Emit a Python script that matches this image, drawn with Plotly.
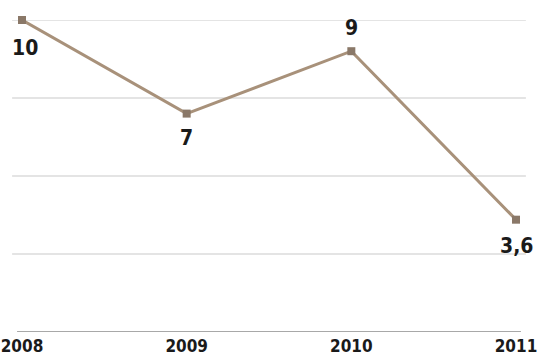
import plotly.graph_objects as go

years = ["2008", "2009", "2010", "2011"]
values = [10, 7, 9, 3.6]
label_shift = [-28, -24, 23, -26]

def fmt(v):
    s = ("%g" % v)
    return s.replace(".", ",")

labels = [fmt(v) for v in values]
FONT = "DejaVu Sans Condensed, Liberation Sans Narrow, sans-serif"

fig = go.Figure()
fig.add_trace(go.Scatter(
    x=years, y=values,
    mode="lines+markers",
    line=dict(color="#a8917a", width=3),
    marker=dict(symbol="square", size=8, color="#8a7868"),
    cliponaxis=False,
    hoverinfo="skip",
))

for i, (y, t, s) in enumerate(zip(values, labels, label_shift)):
    fig.add_annotation(x=i, y=y, xref="x", yref="y", text=t, showarrow=False, yshift=s,
                       xshift=3 if i == 0 else 0,
                       font=dict(family=FONT, size=21, color="#1a1a1a", weight="bold"))

for g in [2.5, 5, 7.5, 10]:
    fig.add_shape(type="line", xref="paper", yref="y", x0=-0.02, x1=1.02, y0=g, y1=g,
                  line=dict(color="#e4e4e4", width=2), layer="below")
fig.add_shape(type="line", xref="paper", yref="y", x0=-0.01, x1=1.01, y0=0, y1=0,
              line=dict(color="#a8a8a8", width=2), layer="below")

fig.update_layout(
    width=538, height=356,
    margin=dict(l=22, r=22, t=20, b=24),
    paper_bgcolor="white", plot_bgcolor="white",
    showlegend=False,
    xaxis=dict(type="category", range=[0, 3], showgrid=False, zeroline=False, automargin=False,
               showline=False, ticks="", tickfont=dict(family=FONT, size=17, color="#1a1a1a", weight="bold"),
               ticklabelstandoff=2),
    yaxis=dict(range=[0, 10], showgrid=False, zeroline=False, showticklabels=False, showline=False,
               automargin=False),
)

fig.write_html("out.html", config={"displayModeBar": False},
               post_script="document.body.style.margin='0';")
